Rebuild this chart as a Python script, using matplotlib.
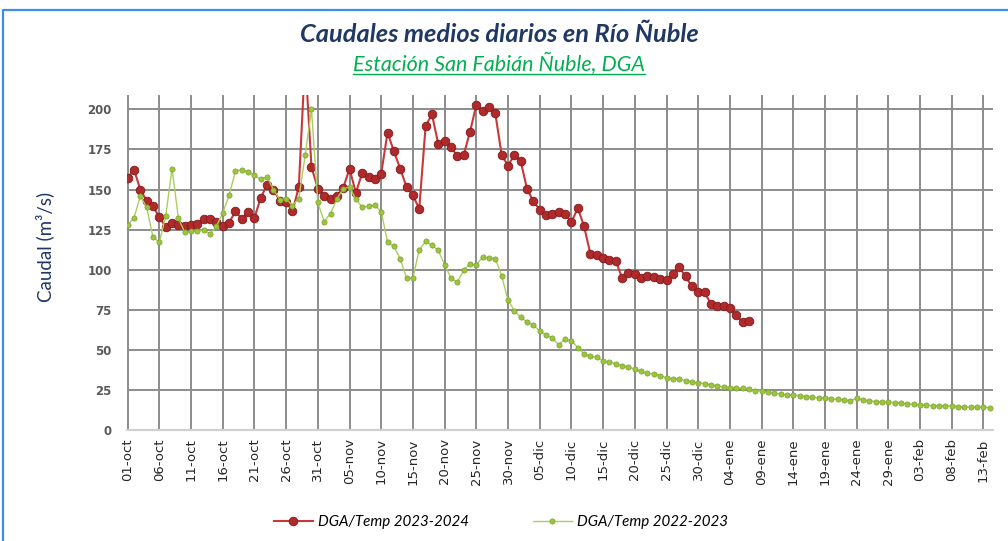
import numpy as np
import matplotlib.pyplot as plt
from matplotlib.lines import Line2D

# ticks every 5 days starting 01-oct
tick_labels = ['01-oct', '06-oct', '11-oct', '16-oct', '21-oct', '26-oct', '31-oct',
               '05-nov', '10-nov', '15-nov', '20-nov', '25-nov', '30-nov',
               '05-dic', '10-dic', '15-dic', '20-dic', '25-dic', '30-dic',
               '04-ene', '09-ene', '14-ene', '19-ene', '24-ene', '29-ene',
               '03-feb', '08-feb', '13-feb']

# daily flow, season 2023-2024 (from 01-oct)
caudal_2324 = [157.3, 162.5, 150, 143, 139.6, 132.7, 126.7, 129.2, 128, 127,
               128, 128.5, 131.7, 131.7, 129.8, 127.5, 129.2, 136.5, 131.7, 135.8,
               132.3, 145, 153, 150, 143, 142.3, 136.5, 151.5, 232, 164,
               150.6, 146, 144.4, 146, 151, 163, 148, 160.4, 157.7, 156.3,
               160, 185.6, 173.8, 163, 151.5, 146.3, 138, 189.6, 196.9, 178.5,
               180.6, 176.5, 171, 171.5, 186, 202.7, 199, 201.7, 197.5, 171.5,
               165, 171.5, 167.7, 150.4, 142.7, 137.5, 134, 135, 136, 134.8,
               129.6, 138.5, 127, 109.8, 109.4, 107.3, 105.8, 105.5, 94.8, 97.9,
               97.3, 94.8, 96.3, 95.4, 94.4, 93.8, 97.5, 101.7, 95.8, 89.6,
               85.8, 85.8, 78.8, 77.1, 77.1, 76, 71.5, 67.3, 68.1]

# daily flow, season 2022-2023 (from 01-oct)
caudal_2223 = [128.1, 132.3, 145.8, 139, 120.2, 117.3, 133.3, 163.1, 132.3, 123.3,
               124, 124.4, 124.6, 122.5, 127, 135.4, 146.3, 161.5, 162.5, 161,
               158.8, 156.3, 158, 150, 143.8, 144.4, 140, 144.4, 171.3, 200,
               142, 130, 135, 144, 150.6, 151.5, 144, 139, 139.6, 140.2,
               136, 117.3, 114.6, 106.7, 94.8, 94.8, 112.5, 117.7, 115.2, 112,
               103.1, 94.8, 92.1, 99.6, 103.8, 103.1, 107.9, 107.3, 106.9, 96.3,
               81, 74.5, 70.3, 67.5, 65.4, 61.9, 59.2, 57.4, 53.1, 56.9,
               55.7, 51.4, 47.5, 46, 45.4, 43.3, 42.3, 41.3, 40.2, 39.2,
               38.1, 36.5, 35.4, 35, 34, 32.5, 31.9, 31.9, 30.8, 30.2,
               29.4, 29, 28.3, 27.5, 26.9, 26.5, 26.2, 26, 25.4, 24.5,
               24.6, 23.5, 22.9, 22.3, 21.9, 21.7, 21.5, 20.8, 20.4, 20.2,
               20, 19.4, 19.2, 18.8, 18.3, 19.8, 18.8, 18.3, 17.7, 17.3,
               17.3, 17.1, 16.7, 16.3, 16, 15.6, 15.6, 15.2, 15.2, 15,
               15, 14.6, 14.4, 14.2, 14.2, 14.2, 14.0]

label_2324 = 'DGA/Temp 2023-2024'
label_2223 = 'DGA/Temp 2022-2023'

red_line, red_face, red_edge = '#c8383a', '#b02a2c', '#7e1b1d'
grn_line, grn_face, grn_edge = '#a9cf5c', '#9cc43c', '#6f9628'

W, H = 1008, 541
fig = plt.figure(figsize=(W / 100, H / 100), dpi=100)
ax = fig.add_axes([127 / W, 1 - 430 / H, (993 - 127) / W, (430 - 95) / H])

x_red = np.arange(len(caudal_2324))
x_grn = np.arange(len(caudal_2223))

ax.plot(x_red, caudal_2324, color=red_line, lw=1.5, marker='o', ms=6.2,
        mfc=red_face, mec=red_edge, mew=0.6, zorder=3)
ax.plot(x_grn, caudal_2223, color=grn_line, lw=1.0, marker='o', ms=3.8,
        mfc=grn_face, mec=grn_edge, mew=0.4, zorder=4)

ax.set_xlim(-0.1, 136.5)
ax.set_ylim(0, 209)
ax.set_yticks(range(0, 201, 25))
ax.set_xticks(range(0, 5 * len(tick_labels), 5))
ax.set_xticklabels(tick_labels, rotation=90)
ax.grid(True, color='#8c8c8c', lw=1.4)
ax.set_axisbelow(True)
for s in ['top', 'right', 'left']:
    ax.spines[s].set_visible(False)
ax.spines['bottom'].set_color('#cfcfcf')
ax.spines['bottom'].set_linewidth(1.5)
ax.tick_params(axis='y', length=0, pad=11, labelsize=8.5, labelcolor='#595959')
ax.tick_params(axis='x', length=0, pad=6, labelsize=9.5, labelcolor='#262626')
for t in ax.get_yticklabels():
    t.set_fontweight('bold')

fig.text(0.0446, 1 - 246.5 / H, 'Caudal (m³/s)', rotation=90, ha='center', va='center',
         fontsize=13.5, color='#1f3864', family='Lato')

fig.text(0.4955, 1 - 35 / H, 'Caudales medios diarios en Río Ñuble', ha='center',
         va='center', fontsize=18.3, color='#1f3864', family='Lato',
         fontweight='bold', style='italic')
sub = fig.text(0.4955, 1 - 64 / H, 'Estación San Fabián Ñuble, DGA', ha='center',
               va='center', fontsize=15.5, color='#00b050', family='Lato', style='italic')

handles = [Line2D([], [], color=red_line, lw=1.5, marker='o', ms=6.2, mfc=red_face,
                  mec=red_edge, mew=0.6),
           Line2D([], [], color=grn_line, lw=1.0, marker='o', ms=3.8, mfc=grn_face,
                  mec=grn_edge, mew=0.4)]
fig.legend(handles, [label_2324, label_2223], loc='center',
           bbox_to_anchor=(0.497, 1 - 522 / H), ncol=2, frameon=False,
           prop={'family': 'Lato', 'style': 'italic', 'size': 10.9},
           handlelength=2.6, handletextpad=0.35, columnspacing=4.2)

# blue outer frame (top and left edges visible)
fig.add_artist(Line2D([3 / W, 3 / W, 1.0], [0, 1 - 10 / H, 1 - 10 / H],
                      transform=fig.transFigure, color='#3d8ee8', lw=1.6))

# underline for subtitle
fig.canvas.draw()
bb = sub.get_window_extent().transformed(fig.transFigure.inverted())
fig.add_artist(Line2D([bb.x0, bb.x1], [bb.y0 + 0.002, bb.y0 + 0.002],
                      transform=fig.transFigure, color='#00b050', lw=1.0))

fig.savefig('out.png', dpi=100)
